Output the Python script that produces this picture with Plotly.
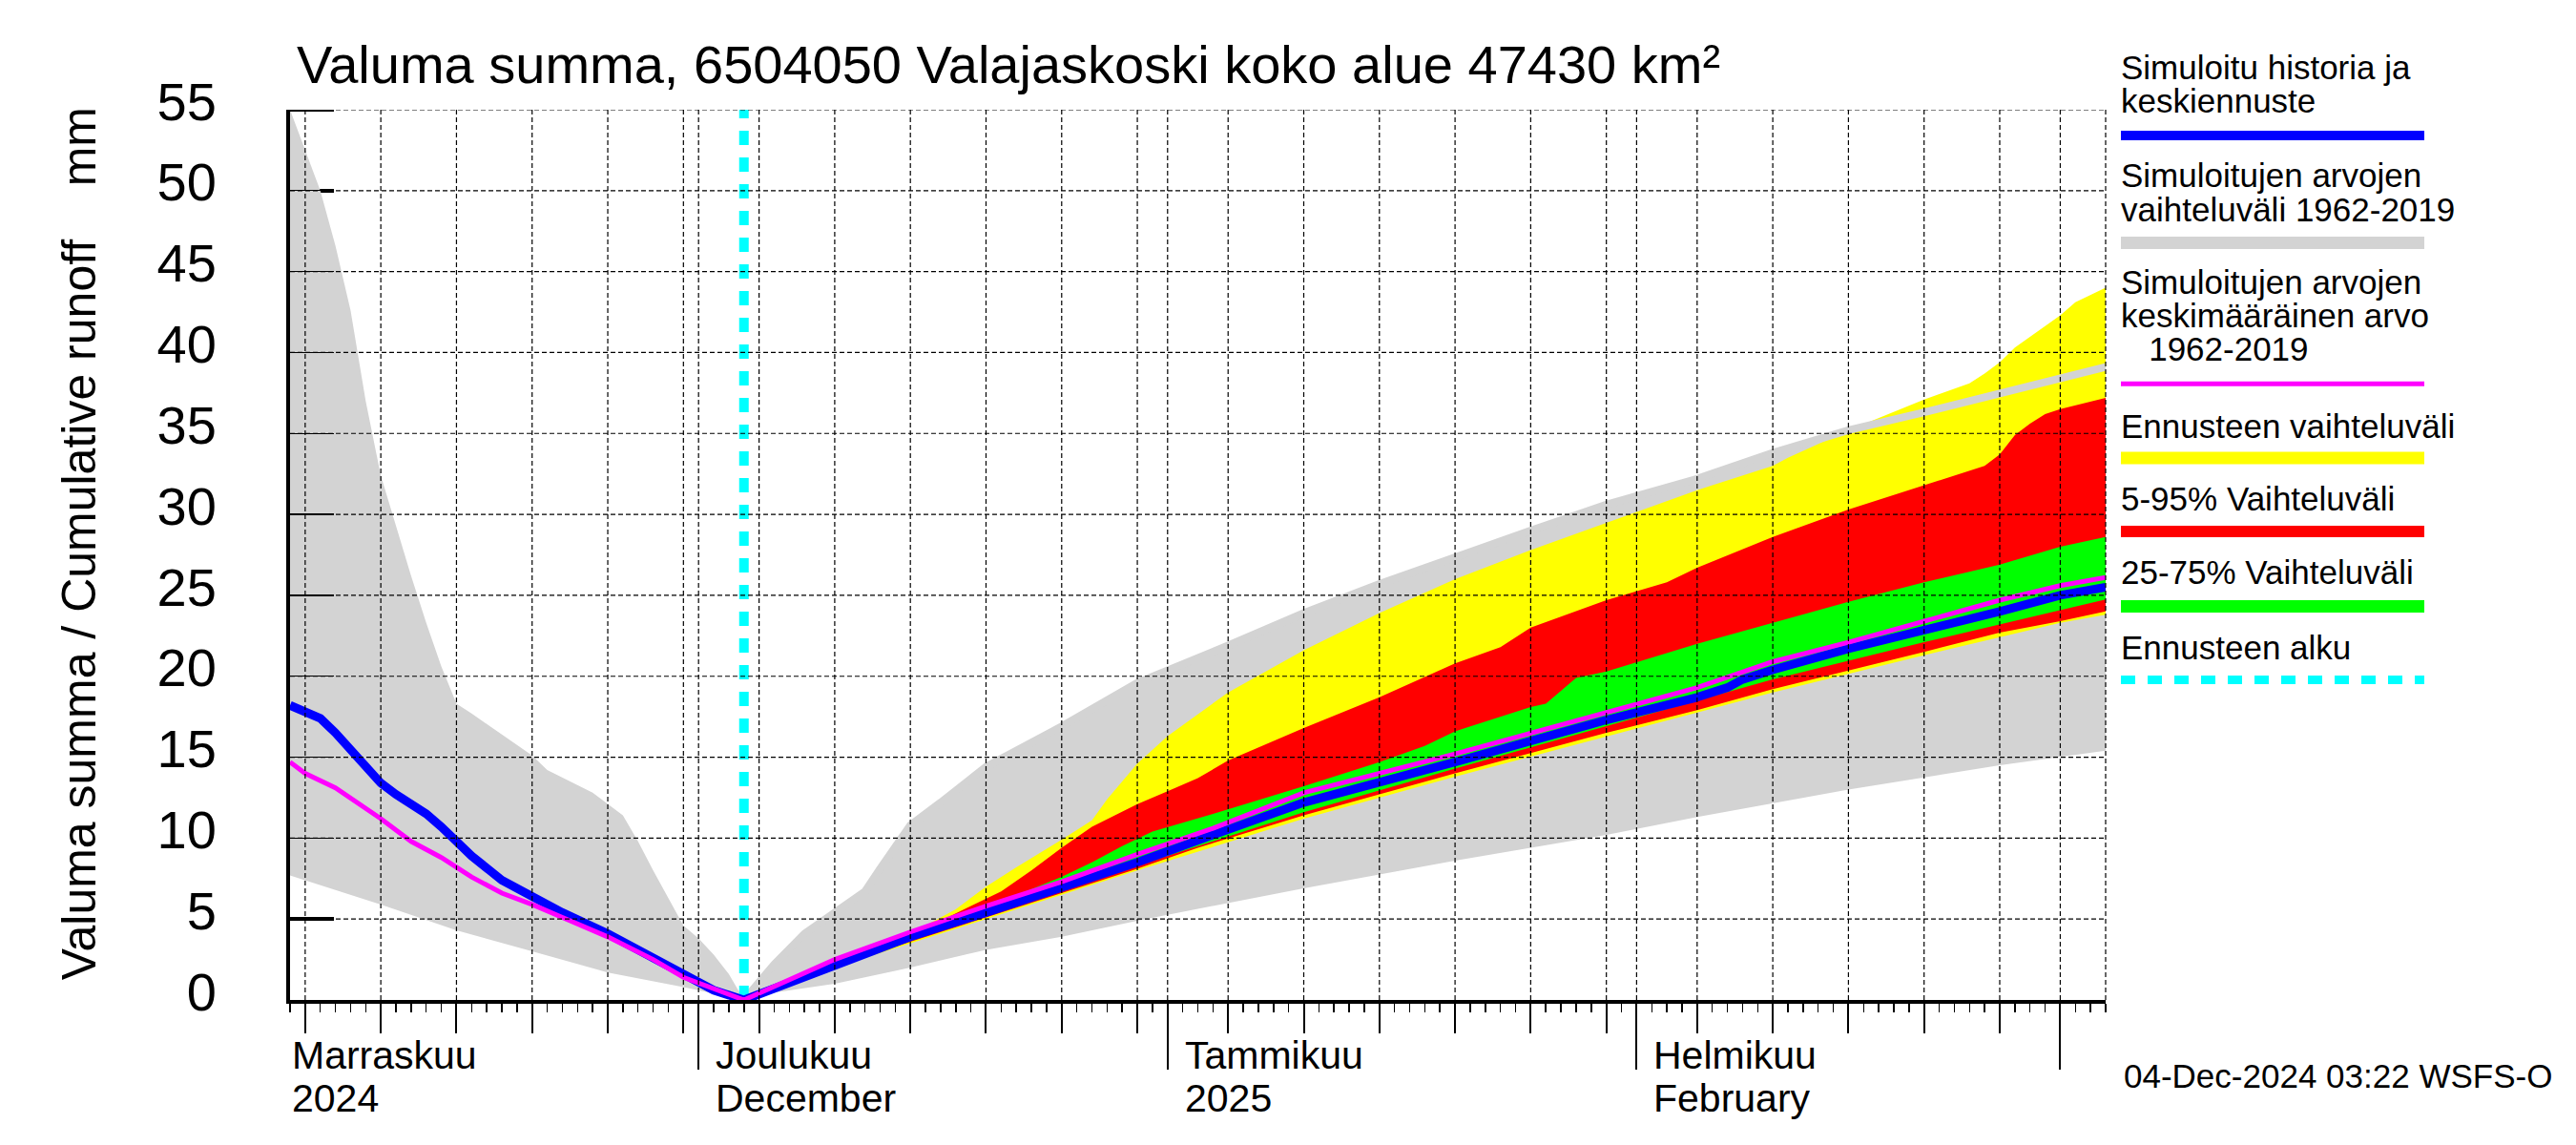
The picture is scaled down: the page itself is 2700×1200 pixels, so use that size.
import pandas as pd
import plotly.graph_objects as go

# ---------------- texts ----------------
title_text = "Valuma summa, 6504050 Valajaskoski koko alue 47430 km²"
y_title = "Valuma summa / Cumulative runoff\u00a0\u00a0\u00a0\u00a0mm"
timestamp = "04-Dec-2024 03:22 WSFS-O"

x_start = "2024-11-04"
x_end = "2025-03-04"
forecast_start = "2024-12-04"
y_min, y_max, y_step = 0, 55, 5

month_starts = ["2024-11-01", "2024-12-01", "2025-01-01", "2025-02-01", "2025-03-01"]
month_label_fi = ["Marraskuu", "Joulukuu", "Tammikuu", "Helmikuu"]
month_label_2 = ["2024", "December", "2025", "February"]

legend_texts = [
    ["Simuloitu historia ja", "keskiennuste"],
    ["Simuloitujen arvojen", "vaihteluväli 1962-2019"],
    ["Simuloitujen arvojen", "keskimääräinen arvo", "\u00a0\u00a0\u00a01962-2019"],
    ["Ennusteen vaihteluväli"],
    ["5-95% Vaihteluväli"],
    ["25-75% Vaihteluväli"],
    ["Ennusteen alku"],
]

# ---------------- data ----------------
# Simulated historical range 1962-2019 (max / min)
hist_max_dates = ["2024-11-04", "2024-11-05", "2024-11-06", "2024-11-07", "2024-11-08", "2024-11-09",
                  "2024-11-10", "2024-11-11", "2024-11-12", "2024-11-13", "2024-11-14", "2024-11-15",
                  "2024-11-16", "2024-11-18", "2024-11-20", "2024-11-21", "2024-11-24", "2024-11-26",
                  "2024-11-27", "2024-11-28", "2024-11-29", "2024-11-30", "2024-12-01", "2024-12-02",
                  "2024-12-03", "2024-12-04", "2024-12-06", "2024-12-08", "2024-12-10", "2024-12-12",
                  "2024-12-13", "2024-12-15", "2024-12-17", "2024-12-20", "2024-12-25", "2024-12-30",
                  "2025-01-05", "2025-01-10", "2025-01-15", "2025-01-20", "2025-01-25", "2025-01-30",
                  "2025-02-05", "2025-02-10", "2025-02-15", "2025-02-20", "2025-02-25", "2025-03-01",
                  "2025-03-04"]
hist_max = [55.0, 52.5, 50.0, 46.6, 42.6, 37.0,
            32.4, 29.3, 26.2, 23.3, 20.6, 18.3,
            17.7, 16.4, 15.1, 14.2, 12.8, 11.4,
            9.8, 8.0, 6.3, 4.6, 3.8, 2.8,
            1.6, 0.0, 2.2, 4.1, 5.4, 6.7,
            8.1, 10.8, 12.2, 14.4, 16.9, 19.6,
            21.9, 23.9, 25.7, 27.4, 29.0, 30.6,
            32.2, 33.8, 35.2, 36.3, 37.5, 38.4,
            39.1]

hist_min_dates = ["2024-11-04", "2024-11-06", "2024-11-10", "2024-11-15", "2024-11-20", "2024-11-25",
                  "2024-11-30", "2024-12-04", "2024-12-06", "2024-12-10", "2024-12-15", "2024-12-20",
                  "2024-12-25", "2024-12-30", "2025-01-04", "2025-01-10", "2025-01-20", "2025-01-30",
                  "2025-02-05", "2025-02-15", "2025-02-25", "2025-03-04"]
hist_min = [7.7, 7.1, 5.9, 4.3, 3.0, 1.7,
            0.8, 0.0, 0.45, 1.0, 2.0, 3.1,
            3.9, 4.9, 5.8, 6.9, 8.6, 10.2,
            11.3, 13.0, 14.5, 15.4]

# Simulated history + median forecast
sim_dates = ["2024-11-04", "2024-11-06", "2024-11-07", "2024-11-08", "2024-11-09", "2024-11-10",
             "2024-11-11", "2024-11-13", "2024-11-14", "2024-11-15", "2024-11-16", "2024-11-18",
             "2024-11-20", "2024-11-22", "2024-11-25", "2024-11-26", "2024-11-28", "2024-11-30",
             "2024-12-02", "2024-12-04", "2024-12-10", "2024-12-15", "2024-12-20", "2024-12-25",
             "2024-12-30", "2025-01-04", "2025-01-10", "2025-01-20", "2025-01-30", "2025-02-05",
             "2025-02-07", "2025-02-08", "2025-02-10", "2025-02-15", "2025-02-20", "2025-02-25",
             "2025-03-01", "2025-03-04"]
sim_values = [18.2, 17.4, 16.5, 15.4, 14.3, 13.4,
              12.7, 11.5, 10.7, 9.8, 8.9, 7.4,
              6.4, 5.4, 4.1, 3.6, 2.5, 1.5,
              0.6, 0.0, 2.2, 3.9, 5.4, 6.9,
              8.5, 10.2, 12.2, 14.7, 17.3, 18.7,
              19.3, 19.8, 20.4, 21.7, 22.8, 24.0,
              25.0, 25.5]

# Mean of simulated values 1962-2019
mean_dates = ["2024-11-04", "2024-11-05", "2024-11-07", "2024-11-10", "2024-11-12", "2024-11-13",
              "2024-11-14", "2024-11-15", "2024-11-16", "2024-11-18", "2024-11-20", "2024-11-22",
              "2024-11-25", "2024-11-28", "2024-11-30", "2024-12-04", "2024-12-10", "2024-12-15",
              "2024-12-20", "2024-12-25", "2024-12-30", "2025-01-04", "2025-01-10", "2025-01-20",
              "2025-01-30", "2025-02-05", "2025-02-10", "2025-02-15", "2025-02-20", "2025-02-25",
              "2025-03-01", "2025-03-04"]
mean_values = [14.7, 14.0, 13.1, 11.2, 9.8, 9.3,
               8.8, 8.2, 7.6, 6.6, 5.9, 5.1,
               3.9, 2.5, 1.4, 0.0, 2.5, 4.2,
               5.8, 7.3, 9.0, 10.6, 12.8, 15.2,
               17.8, 19.3, 20.9, 22.1, 23.4, 24.7,
               25.6, 26.1]

# Forecast range (max / min)
fc_max_dates = ["2024-12-04", "2024-12-10", "2024-12-15", "2024-12-16", "2024-12-18", "2024-12-20",
                "2024-12-22", "2024-12-25", "2024-12-27", "2024-12-28", "2024-12-30", "2025-01-01",
                "2025-01-05", "2025-01-10", "2025-01-15", "2025-01-20", "2025-01-25", "2025-01-30",
                "2025-02-05", "2025-02-10", "2025-02-11", "2025-02-15", "2025-02-20", "2025-02-23",
                "2025-02-24", "2025-02-25", "2025-02-26", "2025-03-01", "2025-03-02", "2025-03-04"]
fc_max = [0.0, 2.5, 4.3, 4.6, 5.6, 7.0,
          8.2, 9.9, 11.1, 12.4, 14.6, 16.3,
          19.0, 21.6, 23.9, 26.0, 27.8, 29.5,
          31.5, 33.0, 33.5, 35.2, 37.1, 38.1,
          38.7, 39.4, 40.3, 42.3, 43.1, 44.0]

fc_min_dates = ["2024-12-04", "2024-12-10", "2024-12-20", "2024-12-30", "2025-01-10", "2025-01-20",
                "2025-01-30", "2025-02-10", "2025-02-20", "2025-03-01", "2025-03-04"]
fc_min = [0.0, 2.0, 5.0, 8.0, 11.2, 13.8,
          16.3, 19.0, 21.3, 23.3, 23.8]

# 5-95 % range
p95_dates = ["2024-12-04", "2024-12-10", "2024-12-15", "2024-12-17", "2024-12-19", "2024-12-21",
             "2024-12-23", "2024-12-25", "2024-12-27", "2024-12-30", "2025-01-01", "2025-01-03",
             "2025-01-05", "2025-01-10", "2025-01-15", "2025-01-20", "2025-01-23", "2025-01-24",
             "2025-01-25", "2025-01-30", "2025-02-03", "2025-02-05", "2025-02-10", "2025-02-15",
             "2025-02-20", "2025-02-24", "2025-02-25", "2025-02-26", "2025-02-27", "2025-02-28",
             "2025-03-01", "2025-03-04"]
p95 = [0.0, 2.4, 4.2, 4.9, 5.8, 6.7,
       8.0, 9.4, 10.7, 12.1, 12.9, 13.7,
       14.8, 16.8, 18.7, 20.8, 21.8, 22.4,
       23.0, 24.7, 25.8, 26.7, 28.6, 30.3,
       31.8, 33.0, 33.7, 34.9, 35.6, 36.2,
       36.5, 37.2]

p5_dates = ["2024-12-04", "2024-12-10", "2024-12-20", "2024-12-30", "2025-01-03", "2025-01-10",
            "2025-01-20", "2025-01-30", "2025-02-05", "2025-02-10", "2025-02-15", "2025-02-20",
            "2025-02-25", "2025-03-01", "2025-03-04"]
p5 = [0.0, 2.1, 5.1, 8.1, 9.4, 11.4,
      14.0, 16.5, 17.9, 19.2, 20.35, 21.5,
      22.7, 23.4, 24.0]

# 25-75 % range
p75_dates = ["2024-12-04", "2024-12-10", "2024-12-15", "2024-12-20", "2024-12-25", "2024-12-27",
             "2024-12-29", "2024-12-31", "2025-01-04", "2025-01-10", "2025-01-15", "2025-01-18",
             "2025-01-20", "2025-01-25", "2025-01-26", "2025-01-28", "2025-01-30", "2025-02-05",
             "2025-02-10", "2025-02-15", "2025-02-20", "2025-02-25", "2025-03-01", "2025-03-04"]
p75 = [0.0, 2.3, 4.0, 5.7, 7.6, 8.5,
       9.5, 10.4, 11.5, 13.2, 14.7, 15.7,
       16.6, 18.1, 18.3, 19.9, 20.3, 22.0,
       23.3, 24.6, 25.8, 26.9, 28.0, 28.6]

p25_dates = ["2024-12-04", "2024-12-10", "2024-12-20", "2024-12-30", "2025-01-10", "2025-01-20",
             "2025-01-30", "2025-02-10", "2025-02-20", "2025-03-04"]
p25 = [0.0, 2.1, 5.2, 8.3, 11.6, 14.3,
       16.9, 19.8, 22.1, 24.75]

# ---------------- styles ----------------
FONT = "Liberation Sans, Arial, Helvetica, sans-serif"
C_GRAY = "#d3d3d3"
C_YEL = "#ffff00"
C_RED = "#ff0000"
C_GRN = "#00ff00"
C_BLUE = "#0000ff"
C_MAG = "#ff00ff"
C_CYAN = "#00ffff"

W, H = 2700, 1200
L, R, T, B = 304, 2207, 115, 1048
Y_TICKLEN = 46


def pxx(xp):
    return (xp - L) / (R - L)


def pxy(yp):
    return (B - yp) / (B - T)


def band(up_d, up_v, lo_d, lo_v):
    return list(up_d) + list(lo_d)[::-1], list(up_v) + list(lo_v)[::-1]


fig = go.Figure()

# polygons on base axes
for (ud, uv, ld, lv, col) in [
    (hist_max_dates, hist_max, hist_min_dates, hist_min, C_GRAY),
    (fc_max_dates, fc_max, fc_min_dates, fc_min, C_YEL),
    (p95_dates, p95, p5_dates, p5, C_RED),
    (p75_dates, p75, p25_dates, p25, C_GRN),
]:
    bx, by = band(ud, uv, ld, lv)
    fig.add_trace(go.Scatter(x=bx, y=by, fill="toself", fillcolor=col, mode="lines",
                             line=dict(width=0, color=col), hoverinfo="skip"))

# historical max line over the forecast area
fs = pd.Timestamp(forecast_start)
hm = [(d, v) for d, v in zip(hist_max_dates, hist_max) if pd.Timestamp(d) >= fs]
fig.add_trace(go.Scatter(x=[d for d, _ in hm], y=[v for _, v in hm], mode="lines",
                         line=dict(color=C_GRAY, width=8), hoverinfo="skip"))

# lines on overlay axes (drawn above polygons)
fig.add_trace(go.Scatter(x=[forecast_start, forecast_start], y=[y_min, y_max], mode="lines",
                         line=dict(color=C_CYAN, width=10, dash="15px,13px"),
                         xaxis="x2", yaxis="y2", hoverinfo="skip"))
fig.add_trace(go.Scatter(x=sim_dates, y=sim_values, mode="lines",
                         line=dict(color=C_BLUE, width=9), xaxis="x2", yaxis="y2",
                         hoverinfo="skip"))
fig.add_trace(go.Scatter(x=mean_dates, y=mean_values, mode="lines",
                         line=dict(color=C_MAG, width=5), xaxis="x2", yaxis="y2",
                         hoverinfo="skip"))

# ---------------- axes ----------------
xs, xe = pd.Timestamp(x_start), pd.Timestamp(x_end)
month_ticks = [m for m in month_starts if xs <= pd.Timestamp(m) <= xe]
five_day = [d.strftime("%Y-%m-%d") for d in pd.date_range(xs, xe, freq="D")
            if d.day in (5, 10, 15, 20, 25, 30)]
y_ticks = list(range(y_min, y_max + 1, y_step))

common_x = dict(type="date", range=[x_start, x_end], showgrid=False, zeroline=False,
                showticklabels=False, fixedrange=True)

fig.update_layout(
    width=W, height=H,
    margin=dict(l=L, r=W - R, t=T, b=H - B, pad=0),
    paper_bgcolor="white", plot_bgcolor="white",
    showlegend=False, hovermode=False,
    font=dict(family=FONT, color="black"),
    xaxis=dict(**common_x, tickmode="array", tickvals=month_ticks, ticks="outside",
               ticklen=69, tickwidth=2, tickcolor="black",
               showline=True, linecolor="black", linewidth=4, layer="below traces",
               minor=dict(tickmode="linear", tick0=x_start, dtick=86400000, ticks="outside",
                          ticklen=9, tickwidth=1.5, tickcolor="black", showgrid=False)),
    xaxis2=dict(**common_x, overlaying="x", anchor="y2", side="bottom",
                tickmode="array", tickvals=five_day, ticks="outside", ticklen=34,
                tickwidth=2, tickcolor="black", showline=False, layer="below traces"),
    yaxis=dict(range=[y_min, y_max], tickmode="array", tickvals=y_ticks,
               ticktext=[str(v) for v in y_ticks], ticks="inside", ticklen=Y_TICKLEN, tickwidth=4,
               tickcolor="black", showline=True, linecolor="black", linewidth=4,
               showgrid=False, zeroline=False, layer="below traces",
               tickfont=dict(family=FONT, size=56, color="black"),
               ticklabelstandoff=62, ticklabelshift=-9, fixedrange=True),
    yaxis2=dict(range=[y_min, y_max], overlaying="y", anchor="x2", side="left",
                tickmode="array", tickvals=y_ticks, ticks="inside", ticklen=Y_TICKLEN, tickwidth=1.2,
                tickcolor="black", showline=False, showgrid=False, zeroline=False,
                showticklabels=False, layer="above traces", fixedrange=True),
)

# ---------------- grid (drawn above fills) ----------------
GRID = dict(color="black", width=1.2, dash="5px,3px")
shapes = []
for v in y_ticks:
    if v == y_min:
        continue
    shapes.append(dict(type="line", xref="paper", yref="y", x0=0, x1=1, y0=v, y1=v,
                       line=GRID, layer="above"))
for d in sorted(set(five_day + month_ticks)):
    shapes.append(dict(type="line", xref="x", yref="paper", x0=d, x1=d, y0=0, y1=1,
                       line=GRID, layer="above"))
shapes.append(dict(type="line", xref="paper", yref="paper", x0=1, x1=1, y0=0, y1=1,
                   line=GRID, layer="above"))
# top tick (plotly drops inside ticks at the very end of the range)
shapes.append(dict(type="line", xref="paper", yref="y", x0=0, x1=pxx(L + Y_TICKLEN),
                   y0=y_max, y1=y_max, line=dict(color="black", width=4), layer="above"))

# ---------------- legend (manual) ----------------
annotations = []
leg_x0, leg_x1 = 2223, 2541
leg_text_x = 2221
leg_lines = [  # baselines of text rows per entry, swatch centre, swatch style
    ([83, 118], 142, dict(color=C_BLUE, width=10)),
    ([196, 232], 254.5, dict(color=C_GRAY, width=13)),
    ([308, 343, 378], 402.3, dict(color=C_MAG, width=5)),
    ([458.3], 480, dict(color=C_YEL, width=13)),
    ([535], 557, dict(color=C_RED, width=12)),
    ([612], 635.5, dict(color=C_GRN, width=13)),
    ([690.7], 712.5, dict(color=C_CYAN, width=9, dash="15px,13px")),
]
LEG_FS = 35
for texts, (baselines, sw_y, sw_style) in zip(legend_texts, leg_lines):
    for t, bl in zip(texts, baselines):
        annotations.append(dict(text=t, xref="paper", yref="paper", x=pxx(leg_text_x),
                                y=pxy(bl - 0.3465 * LEG_FS), xanchor="left", yanchor="middle",
                                showarrow=False, font=dict(family=FONT, size=LEG_FS, color="black")))
    shapes.append(dict(type="line", xref="paper", yref="paper", x0=pxx(leg_x0), x1=pxx(leg_x1),
                       y0=pxy(sw_y), y1=pxy(sw_y), line=sw_style, layer="above"))

# title
TITLE_FS = 56
annotations.append(dict(text=title_text, xref="paper", yref="paper", x=pxx(309),
                        y=pxy(87 - 0.3465 * TITLE_FS), xanchor="left", yanchor="middle",
                        showarrow=False, font=dict(family=FONT, size=TITLE_FS, color="black")))
# y axis title
YT_FS = 50
annotations.append(dict(text=y_title, xref="paper", yref="paper", x=pxx(100 - 0.3465 * YT_FS),
                        y=pxy(569.5), xanchor="center", yanchor="middle", textangle=-90,
                        showarrow=False, font=dict(family=FONT, size=YT_FS, color="black")))
# timestamp
TS_FS = 35
annotations.append(dict(text=timestamp, xref="paper", yref="paper", x=pxx(2223.5),
                        y=pxy(1140 - 0.3465 * TS_FS), xanchor="left", yanchor="middle",
                        showarrow=False, font=dict(family=FONT, size=TS_FS, color="black")))
# month labels
XL_FS = 41
for m, l1, l2 in zip(month_starts, month_label_fi, month_label_2):
    pos = max(pd.Timestamp(m) + pd.Timedelta(days=1), xs)
    for t, bl in ((l1, 1120.7), (l2, 1165)):
        annotations.append(dict(text=t, xref="x", yref="paper", x=pos.strftime("%Y-%m-%d %H:%M"),
                                y=pxy(bl - 0.3465 * XL_FS), xanchor="left", yanchor="middle",
                                showarrow=False,
                                font=dict(family=FONT, size=XL_FS, color="black")))

fig.update_layout(shapes=shapes, annotations=annotations)
fig.write_html("out.html",
               config={"displayModeBar": False, "staticPlot": True},
               post_script="document.body.style.margin='0px';document.body.style.overflow='hidden';")
